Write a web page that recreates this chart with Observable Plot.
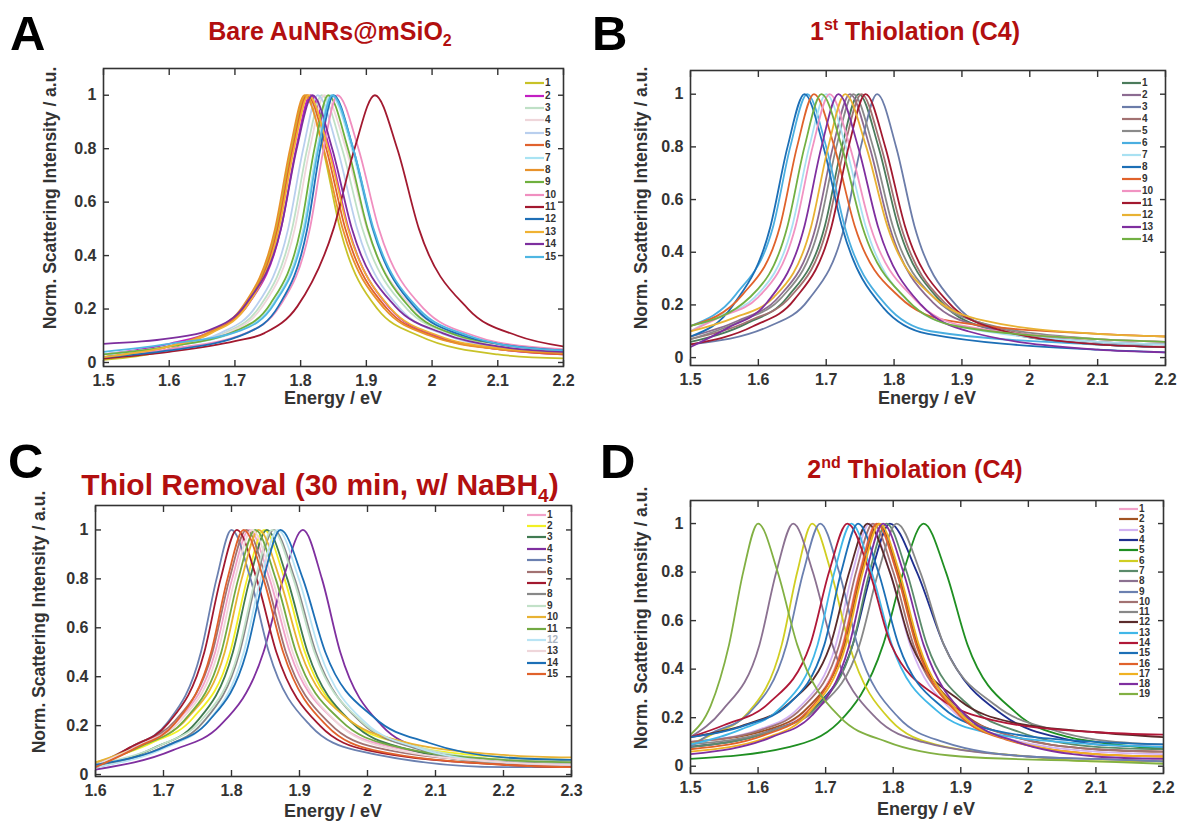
<!DOCTYPE html>
<html><head><meta charset="utf-8">
<script src="https://cdn.jsdelivr.net/npm/d3@7"></script>
<script src="https://cdn.jsdelivr.net/npm/@observablehq/plot@0.6"></script>
<style>
body{margin:0;background:#fff;}
#root{position:relative;width:1180px;height:825px;overflow:hidden;background:#fff;font-family:"Liberation Sans",Arial,sans-serif;}
.panel{position:absolute;}
.legend{position:absolute;font-weight:bold;font-size:10px;color:#333;line-height:1;}
.legend .row{display:flex;align-items:center;}
.legend svg{display:block;margin-right:1px;}
#overlay{position:absolute;left:0;top:0;pointer-events:none;}
</style></head>
<body><div id="root"></div>
<script>
// ---------------- data ----------------
const xticksAB = [1.5,1.6,1.7,1.8,1.9,2,2.1,2.2];
const xticksC = [1.6,1.7,1.8,1.9,2,2.1,2.2,2.3];
const yticks = [0,0.2,0.4,0.6,0.8,1];

const labelsA = ["1","2","3","4","5","6","7","8","9","10","11","12","13","14","15"];
const labelsB = ["1","2","3","4","5","6","7","8","9","10","11","12","13","14"];
const labelsC = ["1","2","3","4","5","6","7","8","9","10","11","12","13","14","15"];
const labelsD = ["1","2","3","4","5","6","7","8","9","10","11","12","13","14","15","16","17","18","19"];

// spectra: [energy eV, normalized intensity]
const curvesA = [
 [[1.5,.01],[1.6,.05],[1.66,.11],[1.714,.21],[1.763,.5],[1.786,.8],[1.808,1],[1.834,.8],[1.86,.5],[1.917,.2],[1.98,.1],[2.1,.03],[2.2,.015]],
 [[1.5,.03],[1.6,.07],[1.667,.12],[1.721,.22],[1.77,.5],[1.793,.8],[1.815,1],[1.844,.8],[1.873,.5],[1.937,.2],[2.006,.1],[2.1,.05],[2.2,.03]],
 [[1.5,.03],[1.6,.06],[1.684,.11],[1.738,.21],[1.787,.5],[1.81,.8],[1.832,1],[1.863,.8],[1.894,.5],[1.962,.2],[2.037,.1],[2.1,.06],[2.2,.035]],
 [[1.5,.02],[1.6,.06],[1.688,.11],[1.742,.21],[1.791,.5],[1.814,.8],[1.836,1],[1.869,.8],[1.901,.5],[1.973,.2],[2.051,.1],[2.1,.065],[2.2,.04]],
 [[1.5,.03],[1.6,.06],[1.678,.11],[1.732,.21],[1.781,.5],[1.804,.8],[1.826,1],[1.856,.8],[1.886,.5],[1.952,.2],[2.024,.1],[2.1,.055],[2.2,.035]],
 [[1.5,.02],[1.6,.06],[1.662,.11],[1.716,.21],[1.765,.5],[1.788,.8],[1.81,1],[1.839,.8],[1.868,.5],[1.932,.2],[2.001,.1],[2.1,.05],[2.2,.03]],
 [[1.5,.03],[1.6,.06],[1.707,.12],[1.758,.22],[1.804,.5],[1.825,.8],[1.846,1],[1.878,.8],[1.909,.5],[1.978,.2],[2.054,.1],[2.1,.07],[2.2,.045]],
 [[1.5,.02],[1.6,.06],[1.658,.11],[1.712,.21],[1.761,.5],[1.784,.8],[1.806,1],[1.835,.8],[1.864,.5],[1.928,.2],[1.997,.1],[2.1,.05],[2.2,.035]],
 [[1.5,.03],[1.6,.06],[1.703,.12],[1.754,.22],[1.80,.5],[1.821,.8],[1.842,1],[1.872,.8],[1.902,.5],[1.968,.2],[2.04,.1],[2.1,.07],[2.2,.045]],
 [[1.5,.02],[1.6,.05],[1.717,.11],[1.768,.21],[1.814,.5],[1.835,.8],[1.856,1],[1.888,.8],[1.919,.5],[1.988,.2],[2.064,.1],[2.1,.075],[2.2,.05]],
 [[1.5,.015],[1.6,.04],[1.7,.08],[1.745,.11],[1.795,.21],[1.85,.5],[1.882,.8],[1.913,1],[1.947,.8],[1.98,.5],[2.055,.2],[2.13,.1],[2.2,.06]],
 [[1.5,.02],[1.6,.045],[1.718,.11],[1.766,.21],[1.81,.5],[1.83,.8],[1.85,1],[1.88,.8],[1.91,.5],[1.976,.2],[2.048,.1],[2.1,.07],[2.2,.045]],
 [[1.5,.02],[1.6,.06],[1.664,.11],[1.718,.21],[1.767,.5],[1.79,.8],[1.812,1],[1.842,.8],[1.872,.5],[1.938,.2],[2.01,.1],[2.1,.055],[2.2,.04]],
 [[1.5,.07],[1.6,.09],[1.66,.12],[1.717,.22],[1.77,.5],[1.794,.8],[1.818,1],[1.848,.8],[1.878,.5],[1.944,.21],[2.016,.11],[2.1,.06],[2.2,.04]],
 [[1.5,.04],[1.6,.07],[1.709,.12],[1.76,.22],[1.806,.5],[1.827,.8],[1.848,1],[1.88,.8],[1.911,.5],[1.98,.2],[2.056,.1],[2.1,.07],[2.2,.045]]
];

const curvesB = [
 [[1.5,.06],[1.583,.13],[1.643,.23],[1.698,.5],[1.723,.8],[1.748,1],[1.777,.8],[1.806,.5],[1.87,.21],[1.939,.11],[2.1,.05],[2.2,.04]],
 [[1.5,.08],[1.57,.14],[1.63,.23],[1.685,.5],[1.71,.8],[1.735,1],[1.764,.8],[1.793,.5],[1.857,.21],[1.926,.12],[2.1,.06],[2.2,.05]],
 [[1.5,.05],[1.617,.12],[1.674,.22],[1.727,.5],[1.751,.8],[1.775,1],[1.803,.8],[1.83,.5],[1.891,.2],[1.957,.1],[2.1,.05],[2.2,.04]],
 [[1.5,.07],[1.587,.14],[1.647,.23],[1.702,.5],[1.727,.8],[1.752,1],[1.781,.8],[1.81,.5],[1.874,.21],[1.943,.12],[2.1,.06],[2.2,.05]],
 [[1.5,.07],[1.575,.14],[1.635,.23],[1.69,.5],[1.715,.8],[1.74,1],[1.769,.8],[1.798,.5],[1.862,.22],[1.931,.13],[2.1,.07],[2.2,.06]],
 [[1.5,.12],[1.567,.24],[1.622,.5],[1.647,.8],[1.672,1],[1.70,.8],[1.727,.5],[1.788,.2],[1.854,.1],[2.1,.05],[2.2,.04]],
 [[1.5,.1],[1.535,.15],[1.595,.23],[1.65,.5],[1.675,.8],[1.70,1],[1.729,.8],[1.758,.5],[1.822,.21],[1.891,.12],[2.1,.06],[2.2,.05]],
 [[1.5,.08],[1.563,.2],[1.618,.5],[1.643,.8],[1.668,1],[1.696,.8],[1.723,.5],[1.784,.19],[1.85,.09],[2.1,.03],[2.2,.02]],
 [[1.5,.12],[1.577,.24],[1.632,.5],[1.657,.8],[1.682,1],[1.712,.8],[1.742,.5],[1.808,.23],[1.88,.14],[2.1,.09],[2.2,.08]],
 [[1.5,.1],[1.54,.15],[1.60,.23],[1.655,.5],[1.68,.8],[1.705,1],[1.735,.8],[1.765,.5],[1.831,.22],[1.903,.12],[2.1,.07],[2.2,.06]],
 [[1.5,.05],[1.593,.12],[1.653,.22],[1.708,.5],[1.733,.8],[1.758,1],[1.787,.8],[1.816,.5],[1.88,.21],[1.949,.11],[2.1,.05],[2.2,.04]],
 [[1.5,.1],[1.563,.15],[1.623,.23],[1.678,.5],[1.703,.8],[1.728,1],[1.759,.8],[1.79,.5],[1.858,.23],[1.933,.14],[2.1,.09],[2.2,.08]],
 [[1.5,.04],[1.553,.11],[1.613,.21],[1.668,.5],[1.693,.8],[1.718,1],[1.747,.8],[1.776,.5],[1.84,.2],[1.909,.1],[2.1,.03],[2.2,.02]],
 [[1.5,.12],[1.588,.23],[1.643,.5],[1.668,.8],[1.693,1],[1.723,.8],[1.753,.5],[1.819,.22],[1.891,.12],[2.1,.07],[2.2,.06]]
];

const curvesC = [
 [[1.6,.04],[1.661,.12],[1.721,.22],[1.776,.5],[1.801,.8],[1.826,1],[1.856,.8],[1.886,.5],[1.952,.22],[2.024,.12],[2.2,.06],[2.3,.05]],
 [[1.6,.05],[1.683,.13],[1.743,.23],[1.798,.5],[1.823,.8],[1.848,1],[1.878,.8],[1.908,.5],[1.974,.22],[2.046,.13],[2.2,.07],[2.3,.06]],
 [[1.6,.03],[1.687,.11],[1.747,.21],[1.802,.5],[1.827,.8],[1.852,1],[1.882,.8],[1.912,.5],[1.978,.21],[2.05,.11],[2.2,.05],[2.3,.05]],
 [[1.6,.02],[1.714,.1],[1.783,.2],[1.847,.5],[1.876,.8],[1.905,1],[1.933,.8],[1.96,.5],[2.021,.2],[2.087,.1],[2.2,.05],[2.3,.04]],
 [[1.6,.03],[1.651,.11],[1.705,.21],[1.755,.5],[1.778,.8],[1.80,1],[1.828,.8],[1.855,.5],[1.916,.2],[1.982,.1],[2.2,.03],[2.3,.03]],
 [[1.6,.04],[1.657,.12],[1.717,.22],[1.772,.5],[1.797,.8],[1.822,1],[1.851,.8],[1.88,.5],[1.944,.21],[2.013,.11],[2.2,.05],[2.3,.04]],
 [[1.6,.03],[1.65,.11],[1.707,.21],[1.76,.5],[1.784,.8],[1.808,1],[1.837,.8],[1.866,.5],[1.93,.2],[1.999,.1],[2.2,.04],[2.3,.03]],
 [[1.6,.03],[1.697,.11],[1.757,.21],[1.812,.5],[1.837,.8],[1.862,1],[1.893,.8],[1.924,.5],[1.992,.21],[2.067,.11],[2.2,.05],[2.3,.05]],
 [[1.6,.04],[1.695,.12],[1.755,.22],[1.81,.5],[1.835,.8],[1.86,1],[1.891,.8],[1.922,.5],[1.99,.22],[2.065,.12],[2.2,.06],[2.3,.05]],
 [[1.6,.05],[1.675,.13],[1.735,.23],[1.79,.5],[1.815,.8],[1.84,1],[1.871,.8],[1.902,.5],[1.97,.23],[2.045,.14],[2.2,.08],[2.3,.07]],
 [[1.6,.04],[1.67,.12],[1.73,.22],[1.785,.5],[1.81,.8],[1.835,1],[1.865,.8],[1.895,.5],[1.961,.22],[2.033,.12],[2.2,.06],[2.3,.05]],
 [[1.6,.03],[1.703,.11],[1.763,.21],[1.818,.5],[1.843,.8],[1.868,1],[1.899,.8],[1.93,.5],[1.998,.21],[2.073,.11],[2.2,.05],[2.3,.04]],
 [[1.6,.04],[1.665,.12],[1.725,.22],[1.78,.5],[1.805,.8],[1.83,1],[1.86,.8],[1.89,.5],[1.956,.21],[2.028,.11],[2.2,.05],[2.3,.04]],
 [[1.6,.04],[1.707,.12],[1.767,.22],[1.822,.5],[1.847,.8],[1.872,1],[1.905,.8],[1.938,.5],[2.011,.23],[2.09,.13],[2.2,.07],[2.3,.06]],
 [[1.6,.03],[1.66,.11],[1.717,.21],[1.77,.5],[1.794,.8],[1.818,1],[1.847,.8],[1.876,.5],[1.94,.2],[2.009,.1],[2.2,.04],[2.3,.03]]
];

const curvesD = [
 [[1.5,.08],[1.61,.14],[1.67,.23],[1.725,.5],[1.75,.8],[1.775,1],[1.805,.8],[1.835,.5],[1.901,.21],[1.973,.11],[2.1,.05],[2.2,.04]],
 [[1.5,.1],[1.613,.15],[1.673,.24],[1.728,.5],[1.753,.8],[1.778,1],[1.807,.8],[1.836,.5],[1.90,.23],[1.969,.13],[2.1,.07],[2.2,.06]],
 [[1.5,.1],[1.60,.15],[1.66,.24],[1.715,.5],[1.74,.8],[1.765,1],[1.795,.8],[1.825,.5],[1.891,.22],[1.963,.12],[2.1,.06],[2.2,.05]],
 [[1.5,.08],[1.613,.14],[1.679,.23],[1.74,.5],[1.768,.8],[1.795,1],[1.835,.8],[1.875,.5],[1.963,.21],[2.059,.11],[2.1,.09],[2.2,.08]],
 [[1.5,.03],[1.647,.08],[1.719,.18],[1.785,.5],[1.815,.8],[1.845,1],[1.878,.8],[1.91,.5],[1.982,.22],[2.06,.12],[2.1,.1],[2.2,.07]],
 [[1.5,.09],[1.531,.13],[1.585,.22],[1.635,.5],[1.658,.8],[1.68,1],[1.708,.8],[1.735,.5],[1.796,.19],[1.862,.09],[2.0,.04],[2.1,.02],[2.2,.02]],
 [[1.5,.08],[1.625,.15],[1.685,.24],[1.74,.5],[1.765,.8],[1.79,1],[1.82,.8],[1.85,.5],[1.916,.24],[1.988,.14],[2.1,.08],[2.2,.07]],
 [[1.5,.12],[1.547,.23],[1.602,.5],[1.627,.8],[1.652,1],[1.681,.8],[1.71,.5],[1.774,.2],[1.843,.1],[2.0,.04],[2.1,.03],[2.2,.02]],
 [[1.5,.08],[1.527,.13],[1.587,.22],[1.642,.5],[1.667,.8],[1.692,1],[1.72,.8],[1.747,.5],[1.808,.2],[1.874,.1],[2.0,.04],[2.1,.03],[2.2,.02]],
 [[1.5,.1],[1.605,.15],[1.665,.24],[1.72,.5],[1.745,.8],[1.77,1],[1.80,.8],[1.83,.5],[1.896,.23],[1.968,.13],[2.1,.07],[2.2,.06]],
 [[1.5,.09],[1.623,.15],[1.689,.24],[1.75,.5],[1.778,.8],[1.805,1],[1.84,.8],[1.875,.5],[1.952,.25],[2.036,.15],[2.1,.11],[2.2,.09]],
 [[1.5,.12],[1.58,.17],[1.646,.26],[1.707,.5],[1.735,.8],[1.762,1],[1.795,.8],[1.827,.5],[1.899,.27],[1.977,.18],[2.1,.14],[2.2,.12]],
 [[1.5,.09],[1.573,.15],[1.633,.24],[1.688,.5],[1.713,.8],[1.738,1],[1.768,.8],[1.798,.5],[1.864,.23],[1.936,.14],[2.1,.09],[2.2,.08]],
 [[1.5,.12],[1.55,.17],[1.616,.26],[1.677,.5],[1.705,.8],[1.732,1],[1.765,.8],[1.797,.5],[1.869,.28],[1.947,.19],[2.1,.14],[2.2,.13]],
 [[1.5,.12],[1.583,.17],[1.643,.25],[1.698,.5],[1.723,.8],[1.748,1],[1.778,.8],[1.808,.5],[1.874,.24],[1.946,.15],[2.1,.1],[2.2,.09]],
 [[1.5,.07],[1.611,.13],[1.671,.22],[1.726,.5],[1.751,.8],[1.776,1],[1.805,.8],[1.834,.5],[1.898,.21],[1.967,.11],[2.1,.05],[2.2,.04]],
 [[1.5,.06],[1.615,.12],[1.675,.22],[1.73,.5],[1.755,.8],[1.78,1],[1.809,.8],[1.838,.5],[1.902,.21],[1.971,.11],[2.1,.05],[2.2,.04]],
 [[1.5,.05],[1.62,.12],[1.68,.21],[1.735,.5],[1.76,.8],[1.785,1],[1.815,.8],[1.845,.5],[1.911,.2],[1.983,.1],[2.1,.04],[2.2,.03]],
 [[1.5,.13],[1.53,.25],[1.557,.5],[1.578,.8],[1.60,1],[1.629,.8],[1.658,.5],[1.722,.2],[1.791,.1],[1.9,.04],[2.1,.02],[2.2,.01]]
];

// ---------------- styles ----------------
const paletteA = ["#c8c228","#c21fc2","#bfe0c6","#efd6da","#b9cfee","#e0622e","#a9e3f3","#e8922b","#6fb03e","#f08fc0","#a2192f","#1f6fb6","#f0b233","#7d2f9e","#4fb6e2"];
const paletteB = ["#4b7b5b","#8c6b91","#6b7ca9","#a27272","#8a8a8a","#4aaee0","#a9e1f2","#1c6fb6","#e0622b","#f193c2","#a2192f","#e8b233","#7f2f9f","#72b043"];
const paletteC = ["#f2a2c9","#f2f024","#417b52","#7f2f9f","#6b80b0","#a27272","#a2192f","#888888","#c2e1c8","#e8b233","#72a943","#b9e4f4","#efd6da","#1c6fb6","#e0622b"];
const paletteD = ["#f2a2c9","#a25322","#d3b3f2","#1f2f8f","#1f8f22","#d0ce22","#5b8b6b","#8b7191","#6b80b0","#a27272","#888888","#5b2b2b","#41b7e8","#b01838","#1c6fb6","#e0622b","#f0b222","#7f2f9f","#82b043"];

const panels = [
 {left:0, top:0, width:590, height:415, mL:103, mR:27, mT:68, mB:49, xd:[1.5,2.2], yd:[-0.015,1.1], xt:xticksAB, curves:curvesA, labels:labelsA, pal:paletteA, leg:{x:525,y:77,row:12.4}},
 {left:590, top:0, width:590, height:415, mL:100, mR:15, mT:70, mB:50, xd:[1.5,2.2], yd:[-0.03,1.09], xt:xticksAB, curves:curvesB, labels:labelsB, pal:paletteB, leg:{x:1122,y:77,row:12}},
 {left:0, top:415, width:590, height:410, mL:95, mR:19, mT:90, mB:49, xd:[1.6,2.3], yd:[-0.008,1.1], xt:xticksC, curves:curvesC, labels:labelsC, pal:paletteC, leg:{x:527,y:509,row:11.4}},
 {left:590, top:415, width:590, height:410, mL:100, mR:17, mT:85, mB:52, xd:[1.5,2.2], yd:[-0.03,1.095], xt:xticksAB, curves:curvesD, labels:labelsD, pal:paletteD, leg:{x:1119,y:504,row:10.3}}
];

const root = document.getElementById("root");
const noText = () => "";

panels.forEach((p, pi) => {
  const marks = p.curves.map((pts, i) => Plot.line(pts, {x: d => d[0], y: d => d[1], stroke: p.pal[i], strokeWidth: 1.8, curve: "monotone-x", clip: true}));
  marks.push(
    Plot.axisX({anchor: "bottom", ticks: p.xt, tickSize: 0, tickPadding: 8, tickFormat: d => String(d), label: null}),
    Plot.axisX({anchor: "bottom", ticks: p.xt, tickSize: -6, tickFormat: noText, label: null, strokeWidth: 1.4}),
    Plot.axisX({anchor: "top", ticks: p.xt, tickSize: -6, tickFormat: noText, label: null, strokeWidth: 1.4}),
    Plot.axisY({anchor: "left", ticks: yticks, tickSize: 0, tickPadding: 7, tickFormat: d => String(d), label: null}),
    Plot.axisY({anchor: "left", ticks: yticks, tickSize: -6, tickFormat: noText, label: null, strokeWidth: 1.4}),
    Plot.axisY({anchor: "right", ticks: yticks, tickSize: -6, tickFormat: noText, label: null, strokeWidth: 1.4}),
    Plot.frame({stroke: "#333", strokeWidth: 1.6})
  );
  const chart = Plot.plot({
    width: p.width, height: p.height,
    marginLeft: p.mL, marginRight: p.mR, marginTop: p.mT, marginBottom: p.mB,
    x: {domain: p.xd}, y: {domain: p.yd},
    style: {fontFamily: '"Liberation Sans", Arial, sans-serif', fontSize: "16px", fontWeight: "bold", color: "#333", background: "transparent", overflow: "visible"},
    marks
  });
  const wrap = document.createElement("div");
  wrap.className = "panel";
  wrap.style.left = p.left + "px";
  wrap.style.top = p.top + "px";
  wrap.appendChild(chart);
  root.appendChild(wrap);

  // legend
  const lg = document.createElement("div");
  lg.className = "legend";
  lg.style.left = p.leg.x + "px";
  lg.style.top = p.leg.y + "px";
  p.labels.forEach((lab, i) => {
    const row = document.createElement("div");
    row.className = "row";
    row.style.height = p.leg.row + "px";
    row.innerHTML = `<svg width="19" height="4"><line x1="0" x2="19" y1="2" y2="2" stroke="${p.pal[i]}" stroke-width="2.2"/></svg><span${(pi === 2 && lab === "12") ? ' style="color:#aab4c0"' : ''}>${lab}</span>`;
    lg.appendChild(row);
  });
  root.appendChild(lg);
});

// titles, panel letters, axis titles
const ns = "http://www.w3.org/2000/svg";
const ov = document.createElementNS(ns, "svg");
ov.setAttribute("id", "overlay");
ov.setAttribute("width", 1180);
ov.setAttribute("height", 825);
ov.innerHTML = `
<g font-family="Liberation Sans, Arial, sans-serif" font-weight="bold">
 <text x="10" y="50" font-size="49" fill="#000">A</text>
 <text x="592" y="50" font-size="49" fill="#000">B</text>
 <text x="8" y="478" font-size="49" fill="#000">C</text>
 <text x="600" y="478" font-size="49" fill="#000">D</text>
 <g fill="#b20f0f" font-size="25" text-anchor="middle">
  <text x="330" y="40">Bare AuNRs@mSiO<tspan font-size="16" dy="6">2</tspan></text>
  <text x="915" y="40">1<tspan font-size="16" dy="-10">st</tspan><tspan dy="10"> Thiolation (C4)</tspan></text>
  <text x="320" y="495" font-size="30">Thiol Removal (30 min, w/ NaBH<tspan font-size="19" dy="7">4</tspan><tspan dy="-7">)</tspan></text>
  <text x="915" y="478">2<tspan font-size="16" dy="-10">nd</tspan><tspan dy="10"> Thiolation (C4)</tspan></text>
 </g>
 <g fill="#333" font-size="18" text-anchor="middle">
  <text x="333" y="404">Energy / eV</text>
  <text x="927" y="404">Energy / eV</text>
  <text x="333" y="817">Energy / eV</text>
  <text x="926" y="815">Energy / eV</text>
 </g>
 <g fill="#333" font-size="17.5" text-anchor="middle">
  <text transform="translate(56,198) rotate(-90)">Norm. Scattering Intensity / a.u.</text>
  <text transform="translate(647,198) rotate(-90)">Norm. Scattering Intensity / a.u.</text>
  <text transform="translate(45,622) rotate(-90)">Norm. Scattering Intensity / a.u.</text>
  <text transform="translate(647,618) rotate(-90)">Norm. Scattering Intensity / a.u.</text>
 </g>
</g>`;
root.appendChild(ov);
</script>
</body></html>
